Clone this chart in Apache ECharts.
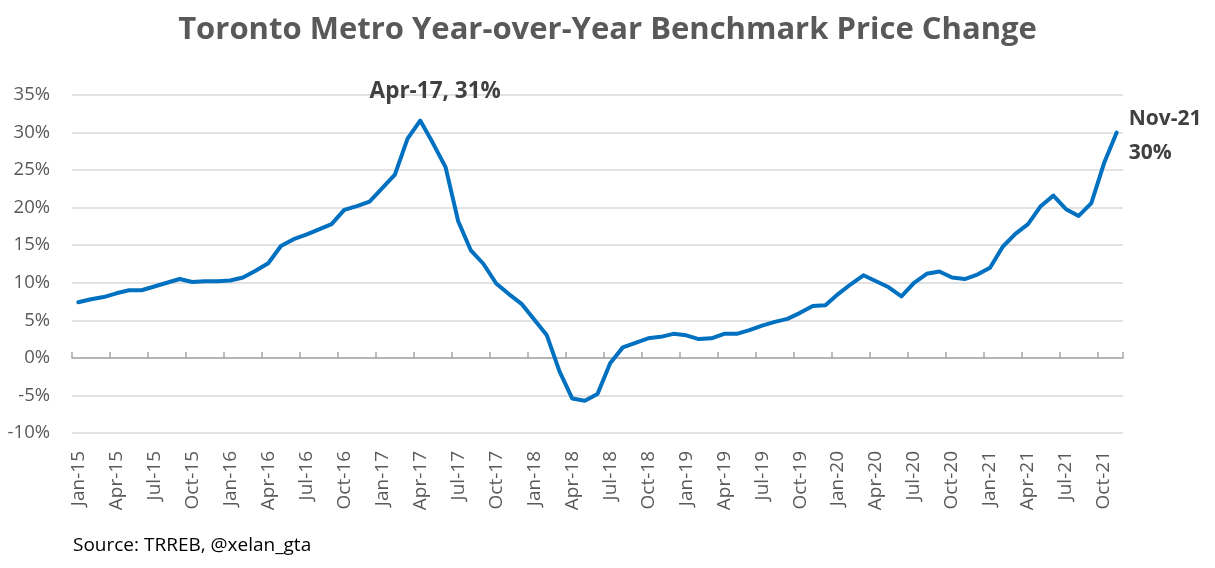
<!DOCTYPE html>
<html>
<head>
<meta charset="utf-8">
<script src="https://cdn.jsdelivr.net/npm/echarts@6/dist/echarts.min.js"></script>
<style>
html,body{margin:0;padding:0;background:#fff;}
#chart{width:1215px;height:568px;}
</style>
</head>
<body>
<div id="chart"></div>
<script>
const months = ['Jan','Feb','Mar','Apr','May','Jun','Jul','Aug','Sep','Oct','Nov','Dec'];
const years = ['15','16','17','18','19','20','21'];
const categories = [];
years.forEach(y => months.forEach(m => categories.push(m + '-' + y)));
categories.length = 83; // Jan-15 .. Nov-21

const yoyChange = [
  7.4, 7.8, 8.1, 8.6, 9.0, 9.0, 9.5, 10.0, 10.5, 10.1, 10.2, 10.2,
  10.3, 10.7, 11.6, 12.6, 14.9, 15.8, 16.4, 17.1, 17.8, 19.7, 20.2, 20.8,
  22.6, 24.4, 29.2, 31.6, 28.6, 25.4, 18.2, 14.3, 12.5, 9.9, 8.5, 7.2,
  5.1, 3.0, -1.8, -5.4, -5.7, -4.8, -0.7, 1.4, 2.0, 2.6, 2.8, 3.2,
  3.0, 2.5, 2.6, 3.2, 3.2, 3.7, 4.3, 4.8, 5.2, 6.0, 6.9, 7.0,
  8.5, 9.8, 11.0, 10.2, 9.4, 8.2, 10.0, 11.2, 11.5, 10.7, 10.5, 11.1,
  12.0, 14.8, 16.5, 17.8, 20.2, 21.6, 19.8, 18.9, 20.6, 25.9, 30.0
];

const yTicks = { min: -10, max: 35, interval: 5 };
const annotations = [
  { cat: 'Apr-17', text: 'Apr-17, 31%' },
  { cat: 'Nov-21', text: 'Nov-21\n30%' }
];

const annFont = { fontFamily: 'Open Sans', fontWeight: 'bold', color: '#404040' };
const markData = annotations.map(a => {
  const i = categories.indexOf(a.cat);
  const isLast = i === yoyChange.length - 1;
  return {
    coord: [a.cat, yoyChange[i]],
    symbol: 'circle',
    symbolSize: 0,
    label: Object.assign({
      show: true,
      formatter: a.text,
      fontSize: isLast ? 21 : 22.5,
      position: isLast ? 'right' : 'top',
      distance: isLast ? 12 : 5,
      offset: isLast ? [0, 3] : [15, -7],
      align: isLast ? 'left' : 'center',
      lineHeight: 34
    }, annFont)
  };
});

const chart = echarts.init(document.getElementById('chart'));
chart.setOption({
  animation: false,
  backgroundColor: '#ffffff',
  title: {
    text: 'Toronto Metro Year-over-Year Benchmark Price Change',
    left: 'center',
    top: 10,
    textStyle: { fontFamily: 'Open Sans', fontWeight: 'bold', fontSize: 31, color: '#595959' }
  },
  graphic: [{
    type: 'text',
    left: 73,
    top: 536,
    style: { text: 'Source: TRREB, @xelan_gta', fontFamily: 'Open Sans', fontSize: 19, fill: '#000000' }
  }],
  grid: { left: 72, right: 92, top: 95, bottom: 135 },
  xAxis: [{
    type: 'category',
    data: categories,
    boundaryGap: true,
    position: 'bottom',
    axisLine: { show: false, onZero: false },
    axisTick: { show: false },
    axisLabel: {
      interval: 2,
      rotate: 90,
      margin: 18,
      fontFamily: 'Open Sans',
      fontSize: 19,
      color: '#595959'
    },
    splitLine: { show: false }
  }, {
    type: 'category',
    data: categories,
    boundaryGap: true,
    axisLine: { show: true, onZero: true, lineStyle: { color: '#a6a6a6', width: 1.5 } },
    axisTick: { show: true, interval: 2, length: 6, lineStyle: { color: '#a6a6a6', width: 1.5 } },
    axisLabel: { show: false, interval: 2 },
    splitLine: { show: false }
  }],
  yAxis: {
    type: 'value',
    min: yTicks.min,
    max: yTicks.max,
    interval: yTicks.interval,
    axisLine: { show: false },
    axisTick: { show: false },
    axisLabel: {
      formatter: '{value}%',
      margin: 22,
      fontFamily: 'Open Sans',
      fontSize: 18.5,
      color: '#595959'
    },
    splitLine: { lineStyle: { color: '#d9d9d9', width: 1.5 } }
  },
  series: [{
    type: 'line',
    xAxisIndex: 0,
    data: yoyChange,
    symbol: 'none',
    smooth: false,
    lineStyle: { color: '#0070C0', width: 4, join: 'round', cap: 'round' },
    itemStyle: { color: '#0070C0' },
    markPoint: { silent: true, data: markData },
    z: 5
  }]
});
</script>
</body>
</html>
